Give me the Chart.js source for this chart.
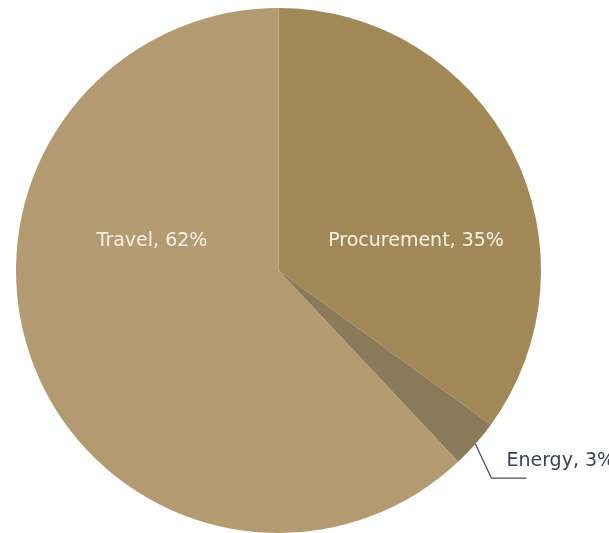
<!DOCTYPE html>
<html>
<head>
<meta charset="utf-8">
<script src="https://cdn.jsdelivr.net/npm/chart.js@4"></script>
<style>
  html, body { margin: 0; padding: 0; background: #fff; }
  #wrap { width: 609px; height: 533px; position: relative; }
</style>
</head>
<body>
<div id="wrap"><canvas id="chart"></canvas></div>
<script>
// data
const categories = ['Procurement', 'Energy', 'Travel'];
const shares = [35, 3, 62];
const colors = ['#a38857', '#8a7a5a', '#b39a70'];

const FONT = '19px "DejaVu Sans", sans-serif';

// draws the "Name, xx%" labels, with a leader line for the small slice
const sliceLabels = {
  id: 'sliceLabels',
  afterDatasetsDraw(chart) {
    const ctx = chart.ctx;
    const meta = chart.getDatasetMeta(0);
    ctx.save();
    ctx.font = FONT;
    ctx.textBaseline = 'middle';
    meta.data.forEach((arc, i) => {
      const text = categories[i] + ', ' + shares[i] + '%';
      const { x, y, outerRadius, startAngle, endAngle } = arc.getProps(['x', 'y', 'outerRadius', 'startAngle', 'endAngle'], true);
      const mid = (startAngle + endAngle) / 2;
      if (shares[i] < 10) {
        const ex = x + Math.cos(mid) * outerRadius;
        const ey = y + Math.sin(mid) * outerRadius;
        ctx.strokeStyle = '#4a5260';
        ctx.lineWidth = 1.3;
        ctx.beginPath();
        ctx.moveTo(ex, ey);
        ctx.lineTo(ex + 16, ey + 34);
        ctx.lineTo(ex + 51, ey + 34);
        ctx.stroke();
        ctx.fillStyle = '#3a4250';
        ctx.textAlign = 'left';
        ctx.fillText(text, ex + 31, ey + 17);
      } else {
        const side = Math.cos(mid) >= 0 ? 1 : -1;
        ctx.fillStyle = '#f7f2e8';
        ctx.textAlign = 'center';
        const dx = side > 0 ? 0.524 : 0.482;
        ctx.fillText(text, x + side * dx * outerRadius, y - 0.112 * outerRadius);
      }
    });
    ctx.restore();
  }
};

new Chart(document.getElementById('chart'), {
  type: 'pie',
  data: {
    labels: categories,
    datasets: [{
      data: shares,
      backgroundColor: colors,
      borderWidth: 0
    }]
  },
  options: {
    responsive: true,
    maintainAspectRatio: false,
    animation: false,
    layout: { padding: { left: 16, right: 68, top: 8, bottom: 0 } },
    plugins: {
      legend: { display: false },
      tooltip: { enabled: false }
    }
  },
  plugins: [sliceLabels]
});
</script>
</body>
</html>
